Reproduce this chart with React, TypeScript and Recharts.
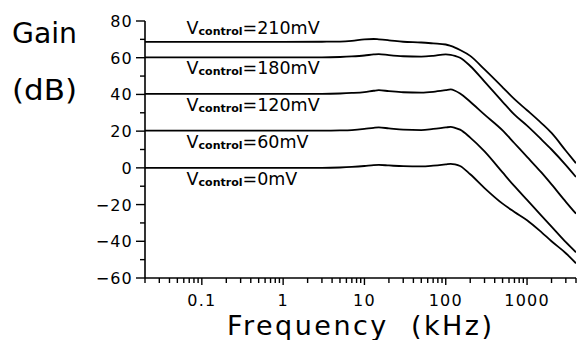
import { LineChart, Line, XAxis, YAxis, ReferenceDot } from 'recharts'

// frequency grid in kHz, shared by all curves
const FREQ = [0.02, 0.1, 1, 3, 5, 7, 10, 13, 15, 20, 30, 50, 70, 100, 115, 130, 150, 200, 300, 500, 700, 1000, 1500, 2000, 3000, 4000]

// gain in dB, one array per control voltage
const GAIN_0 = [0, 0, 0, 0, 0.2, 0.5, 1.0, 1.5, 1.6, 1.3, 0.9, 0.8, 1.2, 1.9, 2.2, 1.9, 1.0, -3.5, -11, -19.5, -24, -28.5, -35, -40, -46.5, -52]
const GAIN_60 = [20.3, 20.3, 20.3, 20.3, 20.4, 20.6, 21.2, 21.8, 22, 21.5, 20.8, 20.6, 21.2, 22, 22.3, 21.8, 20.8, 16.5, 9, -2.5, -10, -17.5, -26, -32, -40.5, -46]
const GAIN_120 = [40.3, 40.3, 40.3, 40.3, 40.5, 40.8, 41.3, 42, 42.3, 41.8, 41.2, 41, 41.4, 42.3, 42.7, 42, 40.5, 36, 29, 20.4, 13.4, 6, -2.5, -9, -18.5, -25]
const GAIN_180 = [60.2, 60.2, 60.2, 60.2, 60.4, 60.7, 61.2, 61.8, 62, 61.4, 60.8, 60.6, 61, 61.8, 61.6, 61, 60, 55.5, 47, 36, 29, 23, 15.5, 10, 1.5, -5]
const GAIN_210 = [68.6, 68.6, 68.6, 68.7, 68.8, 69.2, 70, 70.2, 70, 69.5, 68.7, 68.3, 67.8, 67.2, 66.4, 65.5, 64.2, 61, 53.6, 43.9, 37.4, 31.4, 24.4, 19, 9.3, 2.5]

const SERIES = [
  { key: 'v0', mv: '0mV', values: GAIN_0, level: 0 },
  { key: 'v60', mv: '60mV', values: GAIN_60, level: 20.3 },
  { key: 'v120', mv: '120mV', values: GAIN_120, level: 40.3 },
  { key: 'v180', mv: '180mV', values: GAIN_180, level: 60.2 },
  { key: 'v210', mv: '210mV', values: GAIN_210, level: 68.6 },
]

const LABEL_FREQ = 0.065

const MAJOR_FREQ = [0.1, 1, 10, 100, 1000]
const FREQ_TICKS = [
  0.02, 0.03, 0.04, 0.05, 0.06, 0.07, 0.08, 0.09,
  0.1, 0.2, 0.3, 0.4, 0.5, 0.6, 0.7, 0.8, 0.9,
  1, 2, 3, 4, 5, 6, 7, 8, 9,
  10, 20, 30, 40, 50, 60, 70, 80, 90,
  100, 200, 300, 400, 500, 600, 700, 800, 900,
  1000, 2000, 3000, 4000,
]
const FREQ_LABELS: Record<number, string> = { 0.1: '0.1', 1: '1', 10: '10', 100: '100', 1000: '1000' }

const GAIN_TICKS = [-60, -50, -40, -30, -20, -10, 0, 10, 20, 30, 40, 50, 60, 70, 80]
const MAJOR_GAIN = [-60, -40, -20, 0, 20, 40, 60, 80]

const rows = FREQ.map((f, i) => {
  const row: Record<string, number> = { f }
  SERIES.forEach((s) => (row[s.key] = s.values[i]))
  return row
})

const FONT = '"DejaVu Sans", sans-serif'

function FreqTick({ x, y, payload }: any) {
  const v = payload.value
  const major = MAJOR_FREQ.includes(v)
  return (
    <g>
      <line x1={x} x2={x} y1={y} y2={y + (major ? 7 : 5)} stroke="#000" strokeWidth={1.4} />
      {major && (
        <text x={x} y={y + 28} textAnchor="middle" fontFamily={FONT} fontSize={16} letterSpacing={1.2} fill="#000">
          {FREQ_LABELS[v]}
        </text>
      )}
    </g>
  )
}

function GainTick({ x, y, payload }: any) {
  const v = payload.value
  const major = MAJOR_GAIN.includes(v)
  return (
    <g>
      <line x1={x} x2={x - (major ? 9 : 5)} y1={y} y2={y} stroke="#000" strokeWidth={1.4} />
      {major && (
        <text x={x - 12} y={y + 6} textAnchor="end" fontFamily={FONT} fontSize={16} letterSpacing={1.2} fill="#000">
          {v < 0 ? '\u2212' + Math.abs(v) : v}
        </text>
      )}
    </g>
  )
}

function CurveLabel({ cx, cy, mv, above }: { cx: number; cy: number; mv: string; above: boolean }) {
  return (
    <text x={cx} y={above ? cy - 8 : cy + 17} fontFamily={FONT} fontSize={17.5} fill="#000">
      V
      <tspan fontSize={11} fontWeight="bold" dy={1}>control</tspan>
      <tspan dy={-1}>={mv}</tspan>
    </text>
  )
}

export default function App() {
  return (
    <div style={{ position: 'absolute', left: 0, top: 0, width: 579, height: 340, background: '#fff' }}>
      <LineChart width={579} height={340} data={rows} margin={{ top: 21, right: 3, bottom: 0, left: 0 }}>
        <XAxis
          dataKey="f"
          type="number"
          scale="log"
          domain={[0.02, 4000]}
          allowDataOverflow
          ticks={FREQ_TICKS}
          interval={0}
          height={62}
          tickSize={0}
          tickMargin={0}
          tickLine={false}
          tick={<FreqTick />}
          axisLine={{ stroke: '#000', strokeWidth: 1.6 }}
        />
        <YAxis
          type="number"
          domain={[-60, 80]}
          ticks={GAIN_TICKS}
          interval={0}
          width={145}
          tickSize={0}
          tickMargin={0}
          tickLine={false}
          tick={<GainTick />}
          axisLine={{ stroke: '#000', strokeWidth: 1.6 }}
        />
        {SERIES.map((s) => (
          <Line
            key={s.key}
            dataKey={s.key}
            type="monotone"
            stroke="#000"
            strokeWidth={1.8}
            dot={false}
            activeDot={false}
            isAnimationActive={false}
          />
        ))}
        {SERIES.map((s) => (
          <ReferenceDot
            key={'lbl' + s.key}
            x={LABEL_FREQ}
            y={s.level}
            r={0}
            shape={(p: any) => <CurveLabel cx={p.cx} cy={p.cy} mv={s.mv} above={s.key === 'v210'} />}
          />
        ))}
      </LineChart>
      <svg width={579} height={340} style={{ position: 'absolute', left: 0, top: 0, pointerEvents: 'none' }}>
        <text x={12} y={43} fontFamily={FONT} fontSize={28} textLength={65} lengthAdjust="spacingAndGlyphs" fill="#000">
          Gain
        </text>
        <text x={12} y={100} fontFamily={FONT} fontSize={28} textLength={65} lengthAdjust="spacingAndGlyphs" fill="#000">
          (dB)
        </text>
        <text x={227} y={335} fontFamily={FONT} fontSize={27} textLength={265} lengthAdjust="spacing" fill="#000" xmlSpace="preserve">
          Frequency  (kHz)
        </text>
      </svg>
    </div>
  )
}
